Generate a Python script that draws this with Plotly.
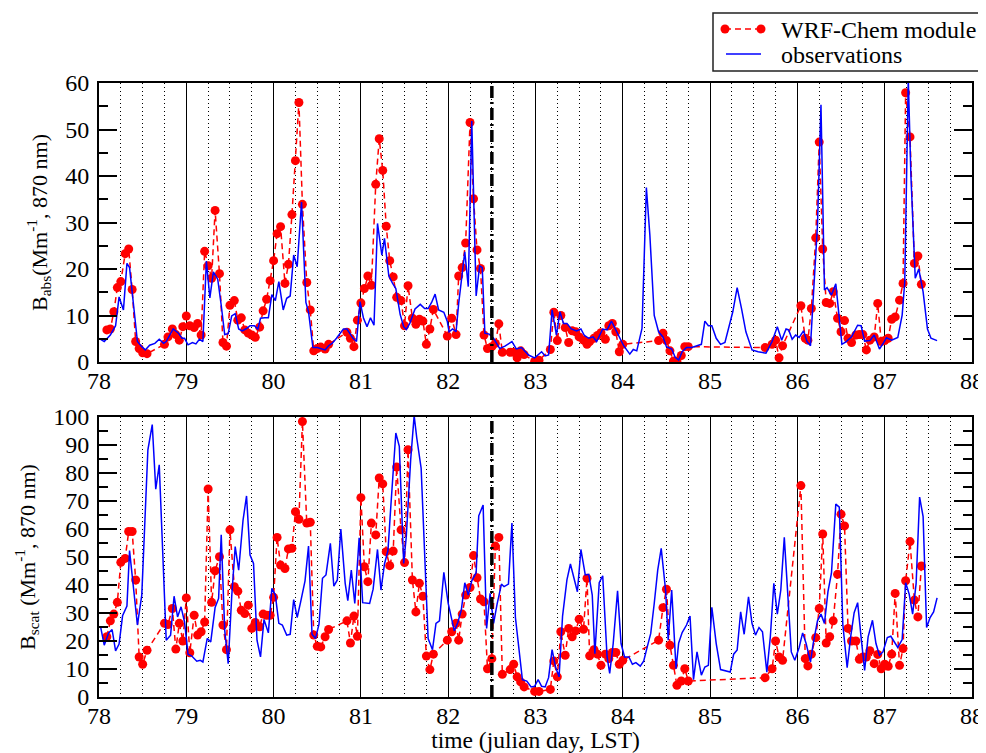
import plotly.graph_objects as go

# ---------------- data ----------------
# model output times (shared by both panels)
model_t = [78.09, 78.13, 78.17, 78.21, 78.25, 78.30, 78.34, 78.38, 78.42, 78.46, 78.50, 78.55,
           78.75, 78.79, 78.84, 78.88, 78.92, 78.96, 79.00,
           79.04, 79.09, 79.13, 79.17, 79.21, 79.25, 79.29, 79.33, 79.38, 79.42, 79.46,
           79.50, 79.55, 79.59, 79.63, 79.67, 79.71, 79.75, 79.79, 79.84, 79.88, 79.92, 79.96, 80.00,
           80.04, 80.08, 80.13, 80.17, 80.21, 80.25, 80.29, 80.33, 80.38, 80.42, 80.46, 80.50, 80.54, 80.59, 80.63,
           80.84, 80.88, 80.92, 80.96, 81.00, 81.04, 81.08, 81.12, 81.17, 81.21, 81.25, 81.29, 81.33, 81.37,
           81.41, 81.46, 81.50, 81.54, 81.59, 81.63, 81.67, 81.71, 81.75, 81.79, 81.83,
           81.99, 82.04, 82.09, 82.12, 82.16, 82.20, 82.25, 82.29, 82.33, 82.37, 82.41, 82.45, 82.50, 82.54, 82.58, 82.62,
           82.71, 82.75, 82.79, 82.83, 82.87,
           82.99, 83.04,
           83.17, 83.21, 83.25, 83.29, 83.34, 83.38, 83.42, 83.46, 83.50, 83.55, 83.59, 83.62, 83.67, 83.71, 83.75,
           83.80, 83.84, 83.88, 83.92, 83.96, 84.00,
           84.41, 84.46, 84.50, 84.54, 84.58, 84.62, 84.67, 84.71, 84.75,
           85.63, 85.71, 85.75, 85.79, 85.83,
           86.04, 86.09, 86.12, 86.16, 86.21, 86.25, 86.29, 86.33, 86.37, 86.41, 86.46, 86.50, 86.54, 86.58, 86.62,
           86.67, 86.71, 86.75, 86.79, 86.83, 86.88, 86.92, 86.96, 87.00, 87.04, 87.08, 87.12, 87.17, 87.21, 87.24,
           87.29, 87.34, 87.38, 87.42]

model_abs = [6.9, 7.1, 10.8, 16.0, 17.3, 23.3, 24.3, 15.6, 4.4, 2.9, 2.0, 1.8,
             3.8, 5.4, 7.1, 5.9, 4.7, 7.6, 9.9,
             7.8, 7.4, 8.3, 5.8, 23.8, 20.7, 18.0, 32.6, 19.0, 4.2, 3.4,
             12.2, 13.2, 9.0, 9.5, 6.9, 6.2, 5.8, 5.3, 7.5, 11.0, 13.5, 17.5, 21.8,
             27.6, 29.1, 16.9, 21.0, 31.7, 43.3, 55.8, 33.9, 17.1, 11.2, 2.4, 2.9, 3.2, 2.8, 3.8,
             6.4, 5.1, 3.3, 9.0, 12.7, 15.8, 18.5, 16.5, 38.2, 48.0, 41.2, 29.2, 21.8, 18.3,
             13.9, 13.2, 7.8, 16.4, 9.4, 8.1, 9.2, 8.8, 3.8, 7.1, 11.3,
             5.6, 9.4, 5.9, 18.5, 20.3, 25.6, 51.5, 35.1, 24.1, 20.1, 5.8, 2.9, 3.3, 4.0, 8.2, 2.1,
             2.1, 2.1, 0.9, 2.4, 1.6,
             0.1, 0.4,
             2.7, 10.7, 4.6, 10.0, 7.4, 4.2, 6.7, 6.5, 5.4, 4.7, 3.8, 4.4, 5.1, 5.7, 6.3,
             4.9, 7.8, 8.3, 6.5, 2.2, 3.8,
             4.6, 6.2, 4.6, 2.4, 0.2, 0.2, 1.4, 3.3, 3.3,
             3.1, 3.8, 4.7, 0.9, 3.5,
             12.1, 5.1, 4.7, 11.5, 26.7, 47.3, 24.3, 12.8, 12.6, 15.1, 9.4, 6.5, 8.9, 5.1, 4.2,
             5.8, 5.9, 5.9, 2.6, 4.7, 5.4, 12.6, 4.4, 4.6, 5.1, 9.2, 9.7, 13.3, 16.9, 57.9,
             48.4, 21.2, 22.8, 16.7]

model_scat = [21.5, 27.2, 29.6, 33.8, 48.1, 49.5, 59.1, 59.1, 41.8, 14.3, 11.7, 16.7,
              26.3, 25.9, 31.6, 17.1, 26.3, 20.0, 35.4,
              15.8, 29.2, 22.1, 23.3, 26.8, 74.3, 33.8, 45.1, 50.1, 25.7, 16.9,
              59.7, 39.4, 37.8, 31.0, 29.8, 32.8, 24.5, 26.6, 25.1, 29.6, 29.2, 29.2, 35.6,
              57.0, 47.1, 45.9, 52.9, 53.1, 66.2, 63.5, 98.4, 62.1, 62.4, 22.1, 18.1, 17.9, 21.5, 24.1,
              27.2, 19.3, 28.9, 21.7, 71.2, 46.5, 41.2, 62.1, 57.9, 78.2, 76.1, 51.9, 46.9, 52.1,
              82.1, 59.7, 48.0, 88.3, 41.8, 30.4, 40.6, 36.0, 14.6, 9.8, 15.3,
              20.3, 23.3, 26.3, 20.3, 29.6, 36.4, 39.1, 50.5, 42.6, 35.0, 34.0, 10.1, 13.7, 53.9, 57.0, 8.1,
              9.8, 11.7, 7.2, 5.4, 3.6,
              2.0, 2.0,
              2.7, 12.9, 7.2, 23.3, 14.9, 24.5, 21.5, 23.6, 27.8, 24.2, 42.4, 14.7, 16.9, 15.3, 11.3,
              15.3, 13.7, 15.9, 15.9, 11.7, 13.1,
              20.3, 31.9, 38.5, 18.5, 11.3, 4.2, 5.7, 10.1, 5.7,
              6.9, 10.1, 20.0, 14.3, 13.1,
              75.5, 13.7, 11.1, 15.3, 21.2, 31.6, 58.2, 19.3, 21.5, 27.2, 43.8, 65.3, 61.1, 24.5, 20.0,
              20.0, 13.5, 14.3, 14.3, 16.5, 11.9, 15.2, 10.1, 11.7, 11.0, 15.3, 37.0, 11.3, 17.3, 41.5,
              55.5, 34.6, 28.6, 46.8]

obs_abs_t = [78.00, 78.06, 78.13, 78.19, 78.23, 78.28, 78.32, 78.35, 78.40, 78.44, 78.49, 78.53, 78.58, 78.64,
             78.69, 78.74, 78.77, 78.85, 78.91, 78.95, 78.98, 79.02, 79.07, 79.11, 79.15, 79.19, 79.23, 79.27,
             79.31, 79.36, 79.40, 79.44, 79.48, 79.52, 79.56, 79.60, 79.64, 79.69, 79.73, 79.78, 79.82, 79.85,
             79.90, 79.94, 79.98, 80.02, 80.06, 80.11, 80.15, 80.19, 80.23, 80.27, 80.32, 80.37, 80.40, 80.45,
             80.50, 80.55, 80.59, 80.63, 80.67, 80.72, 80.80, 80.84, 80.87, 80.91, 80.95, 80.99, 81.03, 81.07,
             81.11, 81.15, 81.19, 81.24, 81.27, 81.32, 81.36, 81.40, 81.45, 81.49, 81.52, 81.56, 81.62, 81.68,
             81.73, 81.77, 81.81, 81.85, 81.89, 81.95, 81.99, 82.01, 82.05, 82.09, 82.12, 82.16, 82.19, 82.23,
             82.27, 82.32, 82.36, 82.39, 82.42, 82.47, 82.52, 82.59, 82.65, 82.73, 82.78, 82.84, 82.92, 82.99,
             83.07, 83.11, 83.15, 83.19, 83.24, 83.28, 83.32, 83.36, 83.41, 83.47, 83.52, 83.56, 83.61, 83.66,
             83.70, 83.77, 83.82, 83.87, 83.93, 84.01, 84.08, 84.12, 84.16, 84.22, 84.27, 84.31, 84.36, 84.41,
             84.46, 84.50, 84.56, 84.60, 84.64, 84.68, 84.73, 84.79, 84.85, 84.90, 84.94, 84.98, 85.02, 85.07,
             85.12, 85.17, 85.26, 85.31, 85.36, 85.41, 85.48, 85.55, 85.64, 85.71, 85.77, 85.82, 85.87, 85.90,
             85.94, 85.98, 86.02, 86.07, 86.11, 86.15, 86.19, 86.23, 86.27, 86.31, 86.34, 86.39, 86.44, 86.48,
             86.51, 86.56, 86.62, 86.69, 86.73, 86.77, 86.83, 86.88, 86.94, 86.99, 87.02, 87.08, 87.15, 87.20,
             87.23, 87.27, 87.30, 87.35, 87.39, 87.44, 87.49, 87.53, 87.60]

obs_abs = [5.1, 4.4, 5.8, 7.8, 14.0, 11.2, 21.2, 20.3, 11.5, 4.4, 3.3, 2.6, 3.6, 4.0,
           4.9, 4.0, 4.4, 7.1, 6.2, 5.1, 5.1, 3.7, 4.2, 3.9, 4.9, 4.4, 21.7, 13.8,
           19.4, 17.8, 12.2, 5.9, 6.1, 9.9, 10.4, 7.1, 6.7, 7.2, 7.8, 7.8, 7.1, 9.4,
           9.5, 9.5, 14.5, 13.2, 17.3, 11.2, 13.7, 14.2, 23.0, 20.5, 34.4, 12.8, 10.8, 3.1,
           3.1, 2.9, 2.6, 3.5, 4.0, 5.1, 7.1, 7.1, 6.2, 5.1, 4.4, 13.0, 9.4, 7.6,
           9.5, 7.9, 29.8, 23.0, 26.6, 18.5, 17.0, 15.8, 10.2, 7.6, 7.0, 8.3, 11.4, 12.4,
           11.5, 11.5, 12.8, 14.6, 11.2, 10.7, 8.7, 6.5, 7.1, 6.5, 12.6, 19.2, 23.7, 16.2,
           51.8, 14.2, 20.7, 20.3, 6.2, 6.0, 5.1, 2.9, 3.4, 4.4, 2.8, 3.1, 1.5, 0.9,
           2.2, 1.3, 1.5, 11.2, 5.8, 10.8, 8.3, 8.3, 7.1, 6.7, 7.1, 5.7, 5.1, 5.4,
           4.4, 7.1, 6.9, 8.8, 6.5, 3.5, 1.7, 2.7, 2.4, 7.2, 37.5, 27.3, 10.0, 6.5,
           5.4, 3.3, 2.8, 1.0, 0.4, 2.2, 3.1, 3.1, 3.5, 3.8, 8.8, 7.8, 7.8, 5.1,
           3.8, 4.2, 10.8, 16.0, 11.5, 6.5, 2.6, 2.2, 1.9, 4.4, 7.6, 4.7, 7.1, 6.9,
           4.9, 5.8, 5.3, 6.7, 4.4, 3.5, 16.5, 29.4, 55.3, 15.5, 16.0, 14.4, 16.8, 10.1,
           3.8, 4.4, 5.4, 7.9, 7.8, 4.5, 4.6, 5.8, 2.8, 4.2, 5.2, 4.7, 5.3, 10.1,
           17.3, 61.0, 40.2, 18.0, 20.0, 15.1, 7.1, 5.1, 4.6]

obs_scat_t = [78.02, 78.06, 78.11, 78.15, 78.19, 78.23, 78.27, 78.32, 78.35, 78.39, 78.44, 78.49, 78.53, 78.56,
              78.61, 78.65, 78.69, 78.73, 78.77, 78.82, 78.86, 78.90, 78.94, 78.98, 79.02, 79.06, 79.12, 79.16,
              79.19, 79.24, 79.28, 79.33, 79.37, 79.40, 79.44, 79.48, 79.52, 79.56, 79.60, 79.65, 79.69, 79.73,
              79.77, 79.81, 79.85, 79.89, 79.94, 79.98, 80.02, 80.06, 80.10, 80.15, 80.19, 80.23, 80.27, 80.31,
              80.36, 80.40, 80.44, 80.48, 80.52, 80.56, 80.60, 80.65, 80.69, 80.73, 80.77, 80.82, 80.85, 80.89,
              80.93, 80.98, 81.02, 81.10, 81.14, 81.19, 81.23, 81.27, 81.31, 81.34, 81.40, 81.44, 81.49, 81.52,
              81.57, 81.61, 81.64, 81.69, 81.73, 81.77, 81.82, 81.86, 81.90, 81.95, 82.00, 82.03, 82.07, 82.11,
              82.15, 82.19, 82.23, 82.27, 82.32, 82.35, 82.40, 82.44, 82.48, 82.52, 82.56, 82.61, 82.64, 82.69,
              82.73, 82.77, 82.82, 82.85, 82.90, 82.95, 82.99, 83.03, 83.07, 83.11, 83.15, 83.19, 83.23, 83.27,
              83.31, 83.36, 83.40, 83.44, 83.48, 83.52, 83.57, 83.61, 83.65, 83.68, 83.73, 83.77, 83.82, 83.85,
              83.89, 83.94, 83.98, 84.02, 84.07, 84.11, 84.15, 84.20, 84.24, 84.28, 84.32, 84.36, 84.40, 84.44,
              84.49, 84.52, 84.56, 84.61, 84.64, 84.68, 84.73, 84.77, 84.81, 84.85, 84.90, 84.94, 84.98, 85.02,
              85.07, 85.12, 85.17, 85.23, 85.27, 85.31, 85.35, 85.39, 85.44, 85.48, 85.52, 85.56, 85.60, 85.65,
              85.69, 85.73, 85.77, 85.81, 85.85, 85.90, 85.93, 85.97, 86.02, 86.06, 86.10, 86.15, 86.18, 86.23,
              86.27, 86.31, 86.35, 86.39, 86.44, 86.48, 86.52, 86.57, 86.61, 86.65, 86.69, 86.73, 86.77, 86.81,
              86.86, 86.90, 86.94, 86.98, 87.03, 87.07, 87.10, 87.15, 87.20, 87.24, 87.28, 87.32, 87.36, 87.40,
              87.44, 87.48, 87.52, 87.56, 87.60]

obs_scat = [24.8, 18.5, 22.9, 24.1, 16.5, 18.9, 29.0, 32.5, 52.3, 40.6, 25.7, 36.4, 66.2, 88.3,
            97.3, 74.2, 82.9, 48.9, 20.3, 22.1, 36.0, 28.6, 32.2, 26.8, 15.2, 14.7, 12.8, 13.1,
            12.5, 20.9, 19.7, 32.0, 35.2, 57.9, 23.9, 11.9, 35.8, 53.7, 45.3, 63.2, 71.8, 50.7,
            47.7, 20.3, 14.3, 27.7, 22.9, 38.8, 36.4, 26.3, 25.7, 22.1, 22.4, 34.8, 28.4, 34.0,
            41.5, 53.9, 22.4, 20.9, 26.0, 42.4, 43.6, 54.9, 39.6, 41.8, 60.0, 40.6, 34.4, 45.3,
            33.4, 56.9, 33.7, 33.4, 38.5, 52.7, 38.2, 47.5, 52.3, 66.8, 94.3, 89.5, 47.7, 57.3,
            84.7, 100.5, 92.5, 81.7, 50.1, 20.9, 16.9, 26.3, 27.2, 44.5, 33.4, 29.6, 23.6, 26.6,
            31.0, 40.8, 36.4, 41.5, 44.4, 64.7, 68.6, 24.5, 37.0, 26.3, 33.2, 40.3, 39.4, 40.3,
            62.1, 28.4, 13.1, 6.2, 5.7, 3.6, 3.8, 6.2, 3.8, 3.6, 6.9, 16.9, 10.7, 7.2,
            28.9, 41.8, 47.5, 43.0, 37.6, 52.7, 43.6, 43.8, 36.4, 15.5, 40.8, 43.3, 14.3, 8.4,
            19.1, 37.9, 19.1, 14.3, 14.3, 11.7, 12.3, 11.0, 12.9, 17.9, 22.7, 33.4, 45.3, 53.1,
            38.2, 20.3, 38.2, 10.1, 19.3, 23.0, 25.7, 28.9, 6.2, 16.1, 7.8, 10.7, 11.3, 32.0,
            19.1, 9.8, 9.5, 8.9, 15.3, 16.8, 30.4, 22.4, 35.8, 26.3, 22.1, 24.8, 23.3, 8.9,
            21.5, 40.6, 29.6, 38.2, 57.0, 32.2, 16.1, 13.1, 17.7, 22.9, 19.1, 12.5, 18.9, 27.2,
            29.6, 26.3, 37.6, 44.2, 68.9, 67.8, 26.0, 10.5, 21.5, 30.1, 33.7, 21.2, 9.5, 21.5,
            27.4, 19.1, 14.9, 16.1, 21.2, 21.7, 20.0, 17.7, 20.5, 40.8, 36.8, 29.6, 40.6, 71.4,
            64.4, 24.8, 28.4, 30.4, 35.4]

x_ticks = [78, 79, 80, 81, 82, 83, 84, 85, 86, 87, 88]
series_names = ["WRF-Chem module", "observations"]
split_day = 82.5

# ---------------- figure ----------------
RED = "#ff0000"
BLUE = "#0000ff"
FONT = "Liberation Serif, Times New Roman, serif"

W, H = 978, 745
ML, MR, MT, MB = 91, 14, 75, 56
PW, PH = W - ML - MR, H - MT - MB


def px(fx):
    """figure pixel x -> paper x"""
    return (fx - ML) / PW


def py(fy):
    """figure pixel y (from top) -> paper y"""
    return (H - MB - fy) / PH


fig = go.Figure()
fig.add_trace(go.Scatter(x=model_t, y=model_abs, mode="lines+markers", name=series_names[0],
                         line=dict(color=RED, width=1.5, dash="6px,4px"),
                         marker=dict(color=RED, size=9, symbol="circle"),
                         xaxis="x", yaxis="y", showlegend=False))
fig.add_trace(go.Scatter(x=obs_abs_t, y=obs_abs, mode="lines", name=series_names[1],
                         line=dict(color=BLUE, width=1.5),
                         xaxis="x", yaxis="y", showlegend=False))
fig.add_trace(go.Scatter(x=model_t, y=model_scat, mode="lines+markers", name=series_names[0],
                         line=dict(color=RED, width=1.5, dash="6px,4px"),
                         marker=dict(color=RED, size=9, symbol="circle"),
                         xaxis="x2", yaxis="y2", showlegend=False))
fig.add_trace(go.Scatter(x=obs_scat_t, y=obs_scat, mode="lines", name=series_names[1],
                         line=dict(color=BLUE, width=1.5),
                         xaxis="x2", yaxis="y2", showlegend=False))

xcommon = dict(range=[78, 88], tickmode="array", tickvals=x_ticks, ticktext=[str(v) for v in x_ticks],
               showgrid=True, gridcolor="black", gridwidth=1.3,
               minor=dict(dtick=0.25, tick0=78, showgrid=True, gridcolor="black",
                          griddash="1px,3px", gridwidth=1),
               showline=True, linecolor="black", linewidth=2, mirror=True,
               ticks="", ticklen=0, zeroline=False, tickfont=dict(family=FONT, size=24, color="black"),
               ticklabelstandoff=-4, automargin=False)

ycommon = dict(showgrid=False, zeroline=False, showline=True, linecolor="black", linewidth=2,
               mirror="ticks", ticks="inside", ticklen=18, tickwidth=1.5, tickcolor="black",
               minor=dict(dtick=5, ticks="inside", ticklen=9, tickwidth=1.5, tickcolor="black",
                          showgrid=False),
               tickfont=dict(family=FONT, size=24, color="black"), ticklabelstandoff=3,
               automargin=False)

top_dom = [py(362 - 8), 1.0]
bot_dom = [0.0, py(417 - 8)]

fig.update_layout(
    width=W, height=H,
    margin=dict(l=ML, r=MR, t=MT, b=MB, autoexpand=False),
    paper_bgcolor="white", plot_bgcolor="white",
    font=dict(family=FONT, size=24, color="black"),
    xaxis=dict(**xcommon, domain=[0, 1], anchor="y"),
    yaxis=dict(**ycommon, domain=top_dom, anchor="x", range=[0, 60], tickvals=[0, 10, 20, 30, 40, 50, 60],
               title=dict(text="B<sub>abs</sub>(Mm<sup>-1</sup>, 870 nm)",
                          font=dict(family=FONT, size=22), standoff=12)),
    xaxis2=dict(**xcommon, domain=[0, 1], anchor="y2",
                title=dict(text="time (julian day, LST)", font=dict(family=FONT, size=23.5), standoff=2)),
    yaxis2=dict(**ycommon, domain=bot_dom, anchor="x2", range=[0, 100],
                tickvals=[0, 10, 20, 30, 40, 50, 60, 70, 80, 90, 100],
                title=dict(text="B<sub>scat</sub> (Mm<sup>-1</sup>, 870 nm)",
                           font=dict(family=FONT, size=22), standoff=12)),
    showlegend=False,
)

# vertical split marker
for xr, yr in (("x", "y domain"), ("x2", "y2 domain")):
    fig.add_shape(type="line", xref=xr, yref=yr, x0=split_day, x1=split_day, y0=0, y1=1,
                  line=dict(color="black", width=3.5, dash="12px,4px,2px,4px"), layer="above")

# ---- legend box (drawn to match the reference's compact layout) ----
fig.add_shape(type="rect", xref="paper", yref="paper",
              x0=px(705), x1=px(977), y0=py(63), y1=py(5),
              line=dict(color="#222222", width=1.5), fillcolor="white", layer="above")
# model sample: dashed red line with dots at both ends
fig.add_shape(type="line", xref="paper", yref="paper", x0=px(717), x1=px(753), y0=py(21), y1=py(21),
              line=dict(color=RED, width=1.5, dash="6px,4px"), layer="above")
for cx in (717, 753):
    fig.add_shape(type="circle", xref="paper", yref="paper",
                  x0=px(cx - 4.5), x1=px(cx + 4.5), y0=py(21 + 4.5), y1=py(21 - 4.5),
                  line=dict(color=RED, width=0), fillcolor=RED, layer="above")
# observation sample: solid blue line
fig.add_shape(type="line", xref="paper", yref="paper", x0=px(718), x1=px(753), y0=py(46), y1=py(46),
              line=dict(color=BLUE, width=1.5), layer="above")
fig.add_annotation(xref="paper", yref="paper", x=px(771), y=py(22), text=series_names[0],
                   showarrow=False, xanchor="left", yanchor="middle",
                   font=dict(family=FONT, size=24, color="black"))
fig.add_annotation(xref="paper", yref="paper", x=px(771), y=py(47), text=series_names[1],
                   showarrow=False, xanchor="left", yanchor="middle",
                   font=dict(family=FONT, size=24, color="black"))

fig.write_html("out.html")
